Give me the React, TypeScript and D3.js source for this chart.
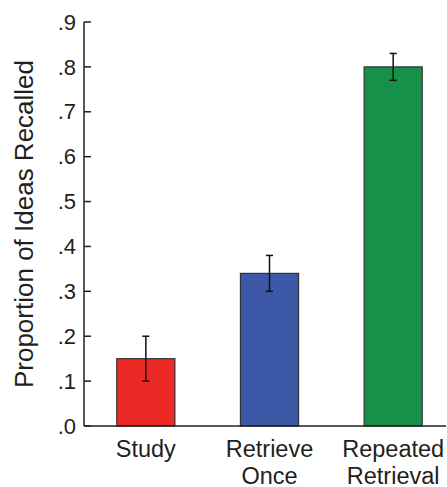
import React from "react";
import * as d3 from "d3";

// conditions, mean proportion recalled and error bar half-widths
const conditions = ["Study", "Retrieve Once", "Repeated Retrieval"];
const labelLines = [["Study"], ["Retrieve", "Once"], ["Repeated", "Retrieval"]];
const means = [0.15, 0.34, 0.8];
const errors = [0.05, 0.04, 0.03];
const colors = ["#ec2a25", "#3d58a6", "#15914a"];
const yTicks = [0, 0.1, 0.2, 0.3, 0.4, 0.5, 0.6, 0.7, 0.8, 0.9];

const W = 447;
const H = 487;
const left = 84;
const right = 446;
const top = 22;
const bottom = 426;

export default function App() {
  const y = d3.scaleLinear().domain([0, 0.9]).range([bottom, top]);
  const x = d3
    .scaleBand<string>()
    .domain(conditions)
    .range([84, 455])
    .paddingInner(0.53)
    .paddingOuter(0.265);

  const fmt = (v: number) => d3.format(".1f")(v).replace(/^0/, "");
  const font = "'Liberation Sans', Arial, sans-serif";

  return (
    <svg
      width={W}
      height={H}
      style={{ position: "absolute", left: 0, top: 0 }}
      fontFamily={font}
    >
      {/* bars */}
      {conditions.map((c, i) => (
        <rect
          key={c}
          x={x(c)}
          y={y(means[i])}
          width={x.bandwidth()}
          height={y(0) - y(means[i])}
          fill={colors[i]}
          stroke="#333"
          strokeWidth={1.2}
        />
      ))}

      {/* error bars */}
      {conditions.map((c, i) => {
        const cx = (x(c) as number) + x.bandwidth() / 2;
        const y1 = y(means[i] + errors[i]);
        const y2 = y(means[i] - errors[i]);
        return (
          <g key={c} stroke="#111" strokeWidth={1.5}>
            <line x1={cx} x2={cx} y1={y1} y2={y2} />
            <line x1={cx - 3.5} x2={cx + 3.5} y1={y1} y2={y1} />
            <line x1={cx - 3.5} x2={cx + 3.5} y1={y2} y2={y2} />
          </g>
        );
      })}

      {/* axes */}
      <g stroke="#231f20" strokeWidth={1.5} fill="none">
        <line x1={left} x2={left} y1={top} y2={bottom} />
        <line x1={left} x2={right} y1={bottom} y2={bottom} />
        {yTicks.map((t) => (
          <line key={t} x1={left} x2={left + 7} y1={y(t)} y2={y(t)} />
        ))}
      </g>

      {/* y tick labels */}
      {yTicks.map((t) => (
        <text
          key={t}
          x={76}
          y={y(t)}
          dy="0.35em"
          textAnchor="end"
          fontSize={22}
          fill="#231f20"
        >
          {fmt(t)}
        </text>
      ))}

      {/* x labels */}
      {conditions.map((c, i) => (
        <text
          key={c}
          x={(x(c) as number) + x.bandwidth() / 2}
          textAnchor="middle"
          fontSize={23.5}
          fill="#231f20"
        >
          {labelLines[i].map((line, j) => (
            <tspan key={j} x={(x(c) as number) + x.bandwidth() / 2} y={457 + j * 26.5}>
              {line}
            </tspan>
          ))}
        </text>
      ))}

      {/* y title */}
      <text
        transform={`translate(33, ${(top + bottom) / 2}) rotate(-90)`}
        textAnchor="middle"
        fontSize={26}
        fill="#231f20"
      >
        Proportion of Ideas Recalled
      </text>
    </svg>
  );
}
